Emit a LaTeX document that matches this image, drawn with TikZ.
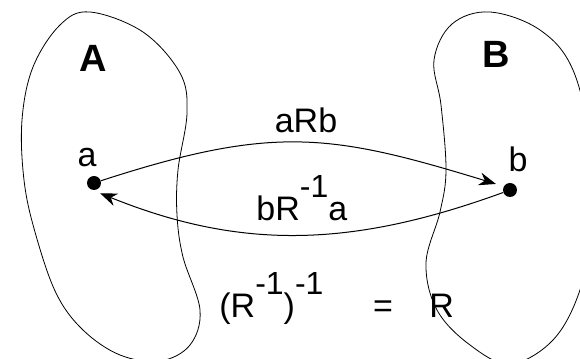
\documentclass[tikz,border=0pt]{standalone}
\usepackage{fontspec}
\setmainfont{Liberation Sans}
\usetikzlibrary{arrows.meta}
\newcommand\myexp[1]{\raisebox{11.5pt}{\fontsize{16}{16}\selectfont #1}}
\begin{document}
\begin{tikzpicture}[x=0.5pt,y=0.5pt,
  blob/.style={draw, line width=0.4pt},
  dotnode/.style={circle, fill, inner sep=0pt, minimum size=7pt},
  rel/.style={draw, line width=0.5pt, -{Stealth[length=8.5pt,width=6.5pt]}},
  lbl/.style={font=\fontsize{17}{20}\selectfont, inner sep=0pt},
  setlbl/.style={font=\fontsize{19}{22}\selectfont\bfseries, inner sep=0pt}]
\useasboundingbox (0,0) rectangle (580,359);
\fill[white] (0,0) rectangle (580,359);
\begin{scope}
  \clip (0,0) rectangle (580,359);
  \begin{scope}[shift={(0,359)}, yscale=-1]
  % set A
  \draw[blob] plot[smooth cycle, tension=0.6] coordinates {
    (90,12) (143,32) (180,73) (187,113) (178,170) (177,215) (183,257)
    (200,310) (190,345) (160,361) (120,355) (83,330) (56,293)
    (35,232) (24,180) (22,120) (33,67) (60,25)};
  % set B
  \draw[blob] plot[smooth cycle, tension=0.6] coordinates {
    (490,12) (540,30) (573,70) (592,150) (594,220) (580,290)
    (553,340) (510,364) (470,345) (437,310) (426,263) (440,212)
    (446,170) (441,105) (434,60) (452,24)};
  \end{scope}
\end{scope}
\node[setlbl, anchor=base] (setA) at (93,287) {A};
\node[setlbl, anchor=base] (setB) at (496,291) {B};
\node[dotnode] (a) at (94,176) {};
\node[dotnode] (b) at (510,169) {};
\node[lbl, anchor=base] (la) at (87,192) {a};
\node[lbl, anchor=base] (lb) at (518,187) {b};
\node[lbl, anchor=base] (arb) at (306,226) {aRb};
\node[lbl, anchor=base west] (bra) at (256,138) {bR\myexp{-1}a};
\node[lbl, anchor=base west] (eq) at (219,41) {(R\myexp{-1})\myexp{-1}};
\node[lbl, anchor=base] (eqs) at (383,41) {=};
\node[lbl, anchor=base west] (rr) at (429,41) {R};
\draw[rel, shorten >=4pt] (a) to[out=18, in=163, looseness=1.15] (b.150);
\draw[rel, shorten >=4pt] (b) to[out=200, in=-22] (a.-100);
\end{tikzpicture}
\end{document}
